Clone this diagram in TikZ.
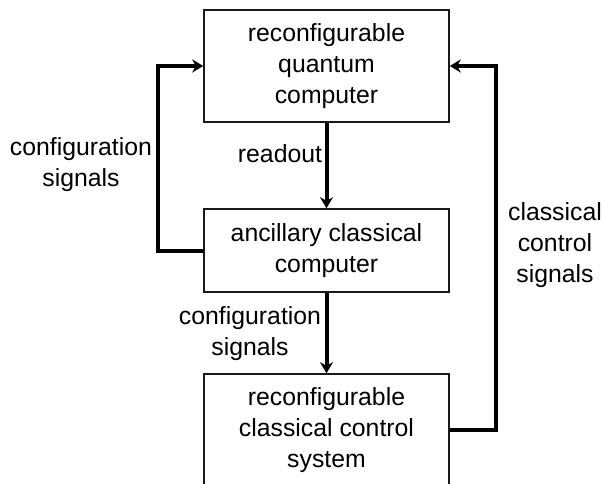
\documentclass[tikz,border=0pt]{standalone}
\usepackage{fontspec}
\setmainfont{Liberation Sans}
\usetikzlibrary{arrows.meta}
\begin{document}
\begin{tikzpicture}[x=1pt,y=-1pt,
  font=\fontsize{24.8}{31}\selectfont,
  block/.style={draw=black!90, line width=1.5pt, minimum width=245pt, align=center, inner sep=0pt},
  flow/.style={line width=4pt, -{Stealth[length=11pt,width=13pt,inset=3.5pt]}},
  lbl/.style={align=center, inner sep=0pt}]
  \clip (0,0) rectangle (605,484);
  \fill[white] (0,0) rectangle (605,484);

  % the three stacked blocks
  \node[block, minimum height=112pt] (qc)  at (326.5,66)  {reconfigurable\\quantum\\computer};
  \node[block, minimum height=83pt]  (acc) at (326.5,250.5) {ancillary classical\\computer};
  \node[block, minimum height=112pt] (ccs) at (326.5,430) {reconfigurable\\classical control\\system};

  % downward flow
  \draw[flow] (qc.south) -- (acc.north);
  \draw[flow] (acc.south) -- (ccs.north);

  % feedback loops
  \draw[flow] (acc.west) -- ++(-45,0) |- (qc.west);
  \draw[flow] (ccs.east) -- ++(46,0) |- (qc.east);

  % labels
  \node[lbl] (lread) at (280,154) {readout};
  \node[lbl] (lcfg1) at (81,165) {configuration\\signals};
  \node[lbl] (lcfg2) at (250,334) {configuration\\signals};
  \node[lbl] (lctl)  at (555,245) {classical\\control\\signals};
\end{tikzpicture}
\end{document}
